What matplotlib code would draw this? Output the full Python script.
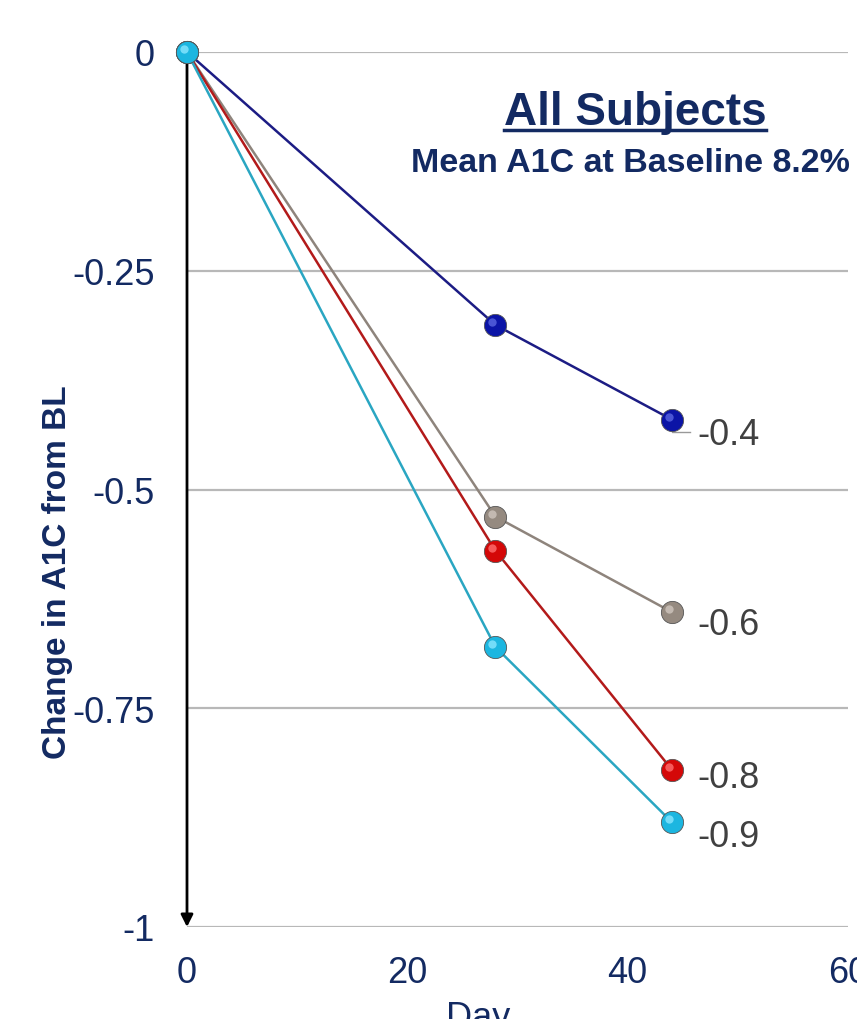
import matplotlib
matplotlib.use("Agg")
import matplotlib.pyplot as plt
from matplotlib.lines import Line2D
from matplotlib.transforms import ScaledTranslation

plt.rcParams['font.family'] = ['Liberation Sans', 'DejaVu Sans']

# data
days = [0, 28, 44]
navy_vals = [0, -0.312, -0.42]
gray_vals = [0, -0.531, -0.64]
red_vals = [0, -0.57, -0.82]
cyan_vals = [0, -0.68, -0.88]
end_labels = ['-0.4', '-0.6', '-0.8', '-0.9']
label_y = [-0.437, -0.654, -0.829, -0.897]
yticks = [0, -0.25, -0.5, -0.75, -1]
ytick_labels = ['0', '-0.25', '-0.5', '-0.75', '-1']
xticks = [0, 20, 40, 60]

line_colors = ['#1c1c84', '#8e847c', '#b31a1a', '#2aa6c2']
marker_colors = ['#0b14a6', '#958a80', '#d40808', '#1cb6e0']
highlight_colors = ['#5a66e0', '#cfc6be', '#ff7070', '#8ae6ff']
navy_text = '#132a62'

fig = plt.figure(figsize=(8.57, 10.2), dpi=100)
ax = fig.add_axes([187 / 857, 92 / 1020, (848 - 187) / 857, (928 - 53) / 1020])

ax.set_xlim(0, 60)
ax.set_ylim(-1, 0)
for s in ax.spines.values():
    s.set_visible(False)
ax.set_yticks(yticks)
ax.set_yticklabels(ytick_labels)
ax.set_xticks(xticks)
ax.tick_params(length=0, labelsize=26, labelcolor=navy_text)
ax.tick_params(axis='y', pad=23)
ax.tick_params(axis='x', pad=20)
ax.grid(axis='y', color='#b8b8b8', linewidth=1.6)
ax.grid(axis='x', visible=False)
ax.set_axisbelow(True)

# vertical axis arrow
ax.annotate('', xy=(0, ax.get_ylim()[0]), xytext=(0, ax.get_ylim()[1]),
            arrowprops=dict(arrowstyle='-|>', color='black', lw=2,
                            mutation_scale=18, shrinkA=0, shrinkB=0),
            zorder=2)

all_vals = [navy_vals, gray_vals, red_vals, cyan_vals]
hl = ScaledTranslation(-3 / 100, 3 / 100, fig.dpi_scale_trans)
for i, vals in enumerate(all_vals):
    ax.plot(days, vals, color=line_colors[i], linewidth=1.8, zorder=3 + i,
            clip_on=False)
    ax.plot(days, vals, linestyle='none', marker='o', markersize=16,
            markerfacecolor=marker_colors[i], markeredgecolor='#555555',
            markeredgewidth=0.6, zorder=3 + i + 0.1, clip_on=False)
    ax.plot(days, vals, linestyle='none', marker='o', markersize=6,
            markerfacecolor=highlight_colors[i], markeredgewidth=0,
            alpha=0.8, transform=ax.transData + hl,
            zorder=3 + i + 0.2, clip_on=False)
    ax.text(days[-1] + 2.3, label_y[i], end_labels[i], fontsize=26,
            color='#404040', va='center', ha='left', zorder=10)

# small elbow leader for the -0.4 label
ax.plot([days[-1], days[-1], days[-1] + 1.7],
        [navy_vals[-1], label_y[0] + 0.003, label_y[0] + 0.003],
        color='#999999', linewidth=1, zorder=2)

fig.text(58 / 857, (1020 - 572) / 1020, 'Change in A1C from BL', rotation=90,
         fontsize=24, fontweight='bold', color=navy_text, ha='center',
         va='center')
fig.text(478 / 857, 2 / 1020, 'Day', fontsize=26, color=navy_text,
         ha='center', va='center')

title = fig.text(635 / 857, (1020 - 125) / 1020, 'All Subjects', fontsize=33,
                 fontweight='bold', color=navy_text, ha='center', va='baseline')
fig.text(850 / 857, (1020 - 172) / 1020, 'Mean A1C at Baseline 8.2%', fontsize=24.5,
         fontweight='bold', color=navy_text, ha='right', va='baseline')

# underline the title
fig.canvas.draw()
bb = title.get_window_extent().transformed(fig.transFigure.inverted())
uy = (1020 - 131) / 1020
fig.add_artist(Line2D([bb.x0, bb.x1], [uy, uy], transform=fig.transFigure,
                      color=navy_text, linewidth=2.5))

fig.savefig('out.png', dpi=100)
